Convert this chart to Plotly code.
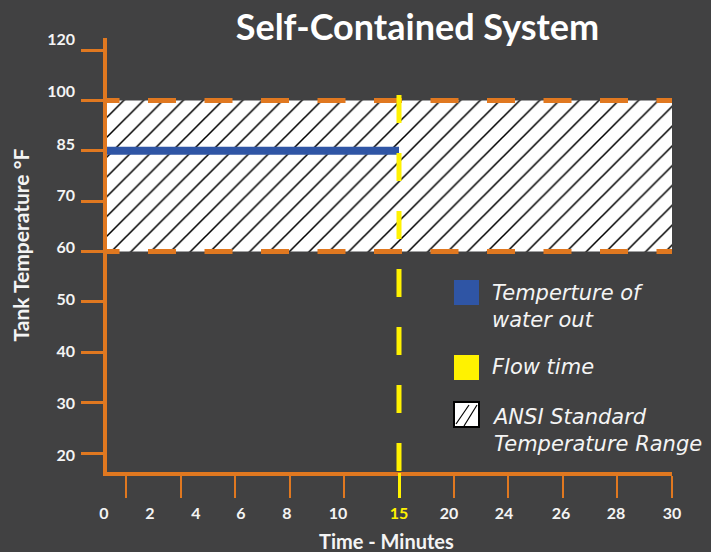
import plotly.graph_objects as go

# ---------------- data ----------------
y_categories = ["20", "30", "40", "50", "60", "70", "85", "100", "120"]
x_tick_labels = ["0", "2", "4", "6", "8", "10", "15", "20", "24", "26", "28", "30"]
water_out_temp = "85"          # temperature of water out (°F)
flow_time = 15                 # minutes
ansi_low, ansi_high = "60", "100"
x_max = 30                     # minutes
tick_step = 3                  # minutes between tick marks

legend_labels = ["Temperture of<br>water out", "Flow time", "ANSI Standard<br>Temperature Range"]

# ---------------- style / geometry ----------------
BG = "#414142"
ORANGE = "#E07820"
BLUE = "#2F55A5"
YELLOW = "#FFF200"
WHITE = "#F4F4F4"
FONT = "Lato"
LEG_FONT = "DejaVu Sans"

W, H = 711, 552
L_MARGIN, R_EDGE, T_EDGE, B_EDGE = 90, 672, 38, 472
AXIS_LEFT_PX = 107
PX_PER_MIN = 18.2
ZERO_PX = R_EDGE - x_max * PX_PER_MIN
CAT0_PX, CAT_STEP = 453, 50.375

def px_to_min(px):
    return (px - ZERO_PX) / PX_PER_MIN

def px_to_cat(py):
    return (CAT0_PX - py) / CAT_STEP

def px2x(px):
    return (px - L_MARGIN) / (R_EDGE - L_MARGIN)

def px2y(py):
    return (B_EDGE - py) / (B_EDGE - T_EDGE)

x_lo = px_to_min(AXIS_LEFT_PX)
x_range = [x_lo, x_max]
y_range = [px_to_cat(B_EDGE), px_to_cat(T_EDGE)]

# label placement (pixel centres)
x_label_px = [104, 150, 196, 241, 287, 338, 399, 449, 504, 561, 616, 672]
y_label_px = [455, 403, 351, 299, 247, 195, 144, 91, 39]

fig = go.Figure()

# ANSI band (hatched)
fig.add_trace(go.Scatter(
    x=[x_lo, x_max, x_max, x_lo],
    y=[ansi_low, ansi_low, ansi_high, ansi_high],
    mode="lines", fill="toself", line=dict(width=0),
    fillcolor="white",
    fillpattern=dict(shape="/", fgcolor="black", bgcolor="white", fgopacity=1,
                     size=14, solidity=0.11),
    hoverinfo="skip", showlegend=False))

# dashed orange limits
dash_start = px_to_min(91.5)
for lvl in (ansi_low, ansi_high):
    fig.add_trace(go.Scatter(
        x=[dash_start, x_max], y=[lvl, lvl], mode="lines",
        line=dict(color=ORANGE, width=5, dash="28px,28.5px"),
        hoverinfo="skip", showlegend=False))

# water out temperature
fig.add_trace(go.Scatter(
    x=[x_lo, flow_time], y=[water_out_temp, water_out_temp], mode="lines",
    line=dict(color=BLUE, width=8), hoverinfo="skip", showlegend=False))

# invisible anchors so the helper axes are drawn
ghost = dict(mode="markers", marker=dict(opacity=0, size=1), hoverinfo="skip", showlegend=False)
fig.add_trace(go.Scatter(x=[x_max], y=[y_categories[0]], xaxis="x2", yaxis="y", **ghost))
fig.add_trace(go.Scatter(x=[x_max], y=[y_categories[0]], xaxis="x3", yaxis="y", **ghost))
fig.add_trace(go.Scatter(x=[x_max], y=[0], xaxis="x", yaxis="y2", **ghost))

shapes = []
# flow time dashed line
top_idx = y_categories.index(ansi_high) + 0.107
shapes.append(dict(type="line", xref="x", yref="y", x0=flow_time, x1=flow_time,
                   y0=top_idx, y1=y_range[0],
                   line=dict(color=YELLOW, width=5, dash="28px,30px"), layer="above"))

# legend swatches
sq = [(454, 280), (454, 355), (454, 402)]
cols = [BLUE, YELLOW, None]
for (lx, ty), c in zip(sq, cols):
    if c:
        shapes.append(dict(type="rect", xref="paper", yref="paper",
                           x0=px2x(lx), x1=px2x(lx + 25), y0=px2y(ty + 25), y1=px2y(ty),
                           fillcolor=c, line=dict(width=0)))
    else:
        shapes.append(dict(type="rect", xref="paper", yref="paper",
                           x0=px2x(lx), x1=px2x(lx + 25), y0=px2y(ty + 25), y1=px2y(ty),
                           fillcolor="white", line=dict(color="black", width=2)))
        for (ax0, ay0, ax1, ay1) in [(456, 424, 469, 405), (464, 426, 477, 405)]:
            shapes.append(dict(type="line", xref="paper", yref="paper",
                               x0=px2x(ax0), y0=px2y(ay0), x1=px2x(ax1), y1=px2y(ay1),
                               line=dict(color="black", width=1.2)))

annotations = []
for txt, cy in zip(legend_labels, [306.5, 367, 430]):
    annotations.append(dict(text="<i>" + txt + "</i>", xref="paper", yref="paper",
                            x=px2x(490), y=px2y(cy), xanchor="left", yanchor="middle",
                            align="left", showarrow=False,
                            font=dict(family=LEG_FONT, size=21, color=WHITE)))
annotations.append(dict(text="<b>Tank Temperature °F</b>", xref="paper", yref="paper",
                        x=px2x(20), y=px2y(245.5), textangle=-90, showarrow=False,
                        xanchor="center", yanchor="middle",
                        font=dict(family=FONT, size=21, color=WHITE)))
annotations.append(dict(text="<b>Time - Minutes</b>", xref="paper", yref="paper",
                        x=px2x(386), y=px2y(541), showarrow=False,
                        xanchor="center", yanchor="middle",
                        font=dict(family=FONT, size=20, color=WHITE)))

x_ticktext = [f'<span style="color:{YELLOW}">{t}</span>' if t == str(flow_time) else t
              for t in x_tick_labels]

tick_font = dict(family=FONT, size=16, color=WHITE, weight="bold")

fig.update_layout(
    width=W, height=H,
    paper_bgcolor=BG, plot_bgcolor="rgba(0,0,0,0)",
    margin=dict(l=L_MARGIN, r=W - R_EDGE, t=T_EDGE, b=H - B_EDGE, pad=0),
    title=dict(text="<b>Self-Contained System</b>", x=417.5 / W, y=1 - 27 / H,
               xref="container", yref="container", xanchor="center", yanchor="middle",
               font=dict(family=FONT, size=36, color="white")),
    showlegend=False,
    hovermode=False,
    xaxis=dict(domain=[px2x(AXIS_LEFT_PX), 1], range=x_range, showgrid=False, zeroline=False,
               showline=True, linecolor=ORANGE, linewidth=4,
               ticks="outside", ticklen=22, tickwidth=2, tickcolor=ORANGE,
               tickmode="array",
               tickvals=[t for t in range(0, x_max + 1, tick_step) if t != flow_time],
               showticklabels=False),
    xaxis2=dict(domain=[0, 1], anchor="y", range=[px_to_min(L_MARGIN), x_max],
                showgrid=False, zeroline=False, showline=False, ticks="",
                tickmode="array", tickvals=[px_to_min(p) for p in x_label_px],
                ticktext=x_ticktext, tickfont=tick_font, ticklabelstandoff=30),
    xaxis3=dict(overlaying="x", anchor="y", range=x_range, showgrid=False, zeroline=False,
                showline=False, ticks="outside", ticklen=25, tickwidth=2.5, tickcolor=YELLOW,
                tickmode="array", tickvals=[flow_time], showticklabels=False),
    yaxis=dict(type="category", categoryorder="array", categoryarray=y_categories,
               range=y_range, showgrid=False, zeroline=False,
               showline=True, linecolor=ORANGE, linewidth=4,
               ticks="outside", ticklen=22, tickwidth=2.5, tickcolor=ORANGE,
               showticklabels=False),
    yaxis2=dict(overlaying="y", anchor="x", range=y_range, showgrid=False, zeroline=False,
                showline=False, ticks="", tickmode="array",
                tickvals=[px_to_cat(p) for p in y_label_px], ticktext=y_categories,
                tickfont=tick_font, ticklabelstandoff=31),
    shapes=shapes,
    annotations=annotations,
)

fig.write_html("out.html", config={"displayModeBar": False},
               post_script="document.body.style.margin='0';")
